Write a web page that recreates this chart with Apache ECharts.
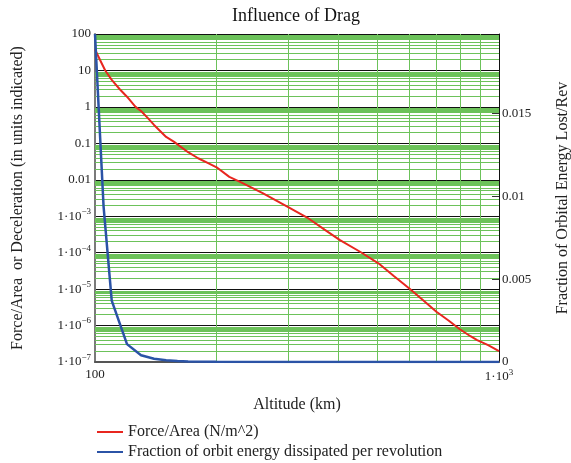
<!DOCTYPE html>
<html>
<head>
<meta charset="utf-8">
<title>Influence of Drag</title>
<script src="https://cdn.jsdelivr.net/npm/echarts@6/dist/echarts.min.js"></script>
<style>
  html, body { margin: 0; padding: 0; background: #fff; }
  #chart { width: 571px; height: 463px; }
</style>
</head>
<body>
<div id="chart"></div>
<script>
// Drag force per unit area vs. altitude (left, log scale)
const forceAltitudeKm = [100, 103, 106, 110, 115, 120, 126, 130, 135, 140, 150, 157, 170, 180, 190, 200, 215, 230, 260, 300, 335, 370, 404, 453, 503, 550, 603, 650, 700, 750, 800, 850, 883, 940, 1000];
const forcePerArea    = [38, 19, 10, 5.5, 3.1, 1.9, 1.0, 0.77, 0.5, 0.32, 0.15, 0.11, 0.057, 0.039, 0.029, 0.022, 0.012, 0.0085, 0.0043, 0.0018, 0.00092, 0.00043, 0.00022, 0.000106, 0.000051, 0.0000226, 0.0000099, 0.0000049, 0.0000024, 0.00000138, 0.00000079, 0.00000051, 0.0000004, 0.00000029, 0.0000002];

// Fraction of orbit energy lost per revolution (right, linear scale)
const energyAltitudeKm = [100, 105, 110, 120, 130, 140, 150, 160, 170, 200, 300, 500, 1000];
const energyFraction   = [0.0198, 0.0094, 0.0037, 0.00108, 0.00041, 0.0002, 0.0001, 0.00006, 0.00003, 0.00001, 0.000002, 0, 0];

// Grid lines between the decades
const minorMultipliers = [2, 3, 4, 5, 6, 7, 7.5, 8, 8.5, 9];
const decadeExponents  = [-7, -6, -5, -4, -3, -2, -1, 0, 1];
const altitudeGridKm   = [200, 300, 400, 500, 600, 700, 800, 900];

const legendNames = ['Force/Area (N/m^2)', 'Fraction of orbit energy dissipated per revolution'];

const FONT = 'Liberation Serif';
const GREEN = '#6cc25a';

const hLines = [];
decadeExponents.forEach(e => minorMultipliers.forEach(m => hLines.push({ yAxis: m * Math.pow(10, e) })));
const vLines = altitudeGridKm.map(v => ({ xAxis: v }));

const supRich = {
  base: { fontFamily: FONT, fontSize: 13, color: '#222' },
  sup:  { fontFamily: FONT, fontSize: 9, color: '#222', padding: [0, 0, 9, 0] }
};

function logLabel(v) {
  const e = Math.round(Math.log10(v));
  if (e >= -2) return '{base|' + (e >= 0 ? String(Math.pow(10, e)) : Math.pow(10, e).toFixed(-e)) + '}';
  return '{base|1·10}{sup|\u2212' + (-e) + '}';
}

function legendRow(name, top) {
  return {
    orient: 'vertical',
    left: 97, top: top, padding: 0,
    itemWidth: 26, itemHeight: 2,
    icon: 'rect',
    data: [name],
    textStyle: { fontFamily: FONT, fontSize: 16, color: '#222' }
  };
}

const chart = echarts.init(document.getElementById('chart'), null, { renderer: 'canvas' });

chart.setOption({
  animation: false,
  backgroundColor: '#fff',
  title: {
    text: 'Influence of Drag',
    left: 296, top: 7, padding: 0, textAlign: 'center',
    textStyle: { fontFamily: FONT, fontSize: 18, fontWeight: 'normal', color: '#111' }
  },
  legend: [legendRow(legendNames[0], 424), legendRow(legendNames[1], 444)],
  grid: { left: 95, right: 72, top: 34, bottom: 101, containLabel: false, outerBoundsMode: 'none' },
  xAxis: {
    type: 'log', logBase: 10, min: 100, max: 1000,
    name: 'Altitude (km)', nameLocation: 'middle', nameGap: 35,
    nameTextStyle: { fontFamily: FONT, fontSize: 16, color: '#222' },
    axisLine: { show: true, lineStyle: { color: '#555', width: 2 } },
    axisTick: { show: false },
    splitLine: { show: false },
    axisLabel: {
      margin: 6,
      formatter: v => Math.round(v) === 100 ? '{base|100}' : '{base|1·10}{sup|3}',
      rich: supRich
    }
  },
  yAxis: [
    {
      type: 'log', logBase: 10, min: 1e-7, max: 100, interval: 1,
      name: 'Force/Area  or Deceleration (in units indicated)',
      nameLocation: 'middle', nameGap: 69, nameRotate: 90,
      nameTextStyle: { fontFamily: FONT, fontSize: 16, color: '#222' },
      axisLine: { show: true, lineStyle: { color: '#7a7a7a', width: 2 } },
      axisTick: { show: false },
      axisLabel: { margin: 4, formatter: logLabel, rich: supRich },
      splitLine: { show: true, lineStyle: { color: '#111', width: 1 } }
    },
    {
      type: 'value', position: 'right',
      min: 0, max: Math.max(...energyFraction), interval: 0.005,
      name: 'Fraction of Orbital Energy Lost/Rev',
      nameLocation: 'middle', nameGap: 56, nameRotate: 90,
      nameTextStyle: { fontFamily: FONT, fontSize: 16, color: '#222' },
      axisLine: { show: true, lineStyle: { color: '#111', width: 1 } },
      axisTick: { show: true, inside: true, length: 7, lineStyle: { color: '#333' } },
      axisLabel: {
        margin: 3, showMaxLabel: false,
        fontFamily: FONT, fontSize: 13, color: '#222',
        formatter: v => (v === 0 ? '0' : String(+v.toFixed(3)))
      },
      splitLine: { show: false }
    }
  ],
  series: [
    {
      name: 'grid',
      type: 'line',
      data: [],
      xAxisIndex: 0, yAxisIndex: 0,
      silent: true,
      z: 1,
      markLine: {
        silent: true,
        z: 1,
        precision: 15,
        symbol: ['none', 'none'],
        label: { show: false },
        emphasis: { disabled: true },
        lineStyle: { color: GREEN, width: 1, type: 'solid' },
        data: hLines.concat(vLines)
      }
    },
    {
      name: legendNames[0],
      type: 'line',
      xAxisIndex: 0, yAxisIndex: 0,
      data: forceAltitudeKm.map((a, i) => [a, forcePerArea[i]]),
      showSymbol: false, smooth: false,
      lineStyle: { color: '#e8261f', width: 2 },
      itemStyle: { color: '#e8261f' },
      z: 10
    },
    {
      name: legendNames[1],
      type: 'line',
      xAxisIndex: 0, yAxisIndex: 1,
      data: energyAltitudeKm.map((a, i) => [a, energyFraction[i]]),
      showSymbol: false, smooth: false,
      lineStyle: { color: '#2b53a6', width: 2.5 },
      itemStyle: { color: '#2b53a6' },
      z: 11
    }
  ]
});
</script>
</body>
</html>
